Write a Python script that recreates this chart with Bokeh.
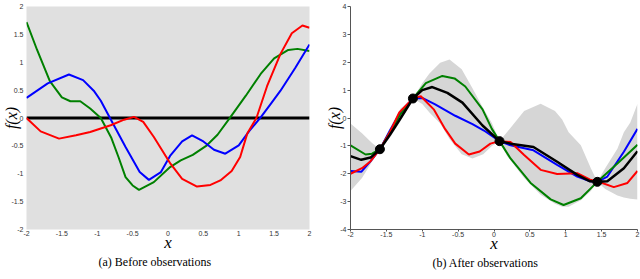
from bokeh.plotting import figure
from bokeh.layouts import row
from bokeh.models import FixedTicker, CustomJSTickFormatter, Range1d, Title
from bokeh.embed import file_html
from bokeh.resources import INLINE

# ---------------- data: (a) before observations ----------------
a_zero_x = [-2.0, 2.0]
a_zero_y = [0.0, 0.0]

a_green_x = [-2.0, -1.85, -1.67, -1.5, -1.38, -1.24, -1.1, -0.95, -0.8, -0.7, -0.6, -0.5, -0.41, -0.2,
             0.03, 0.18, 0.35, 0.55, 0.7, 0.88, 1.1, 1.31, 1.5, 1.7, 1.83, 2.0]
a_green_y = [1.72, 1.22, 0.66, 0.37, 0.30, 0.30, 0.17, 0.0, -0.36, -0.70, -1.06, -1.21, -1.29, -1.15,
             -0.88, -0.76, -0.66, -0.49, -0.3, 0.01, 0.4, 0.79, 1.07, 1.22, 1.24, 1.20]

a_blue_x = [-2.0, -1.7, -1.4, -1.2, -1.05, -0.95, -0.82, -0.6, -0.4, -0.27, -0.1, 0.035, 0.2, 0.34,
            0.5, 0.65, 0.81, 1.0, 1.15, 1.31, 1.45, 1.59, 1.8, 2.0]
a_blue_y = [0.36, 0.62, 0.78, 0.68, 0.49, 0.31, 0.0, -0.52, -0.97, -1.11, -0.97, -0.67, -0.42, -0.31,
            -0.42, -0.57, -0.64, -0.49, -0.23, 0.01, 0.25, 0.49, 0.9, 1.32]

a_red_x = [-2.0, -1.8, -1.54, -1.3, -1.1, -0.81, -0.62, -0.48, -0.35, -0.2, 0.035, 0.2, 0.41, 0.6,
           0.74, 0.9, 1.02, 1.12, 1.25, 1.4, 1.59, 1.75, 1.9, 2.0]
a_red_y = [0.0, -0.24, -0.37, -0.31, -0.25, -0.13, -0.03, 0.02, -0.07, -0.34, -0.82, -1.09, -1.23, -1.20,
           -1.12, -0.95, -0.70, -0.28, 0.0, 0.57, 1.15, 1.52, 1.66, 1.62]

a_x_ticks = [-2, -1.5, -1, -0.5, 0, 0.5, 1, 1.5, 2]
a_x_labels = ["-2", "-1.5", "-1", "-0.5", "0", "0.5", "1", "1.5", "2"]
a_y_ticks = [-2, -1.5, -1, -0.5, 0, 0.5, 1, 1.5, 2]
a_y_labels = ["-2", "-1.5", "-1", "-0.5", "0", "0.5", "1", "1.5", "2"]

# ---------------- data: (b) after observations ----------------
b_band_x = [-2.0, -1.84, -1.70, -1.59, -1.45, -1.30, -1.13, -1.0, -0.9, -0.75, -0.62, -0.45, -0.3, -0.15,
            -0.03, 0.077, 0.18, 0.42, 0.65, 0.85, 0.95, 1.04, 1.21, 1.35, 1.44, 1.55, 1.72, 1.81, 1.90, 2.0]
b_band_upper = [-0.2, -0.55, -0.9, -1.12, -0.35, 0.35, 0.70, 1.25, 1.6, 1.98, 2.1, 1.75, 1.07, 0.35,
                -0.18, -0.83, -0.51, 0.25, 0.51, 0.25, -0.05, -0.51, -0.98, -1.8, -2.29, -1.8, -1.10, -0.51, -0.16, 0.51]
b_band_lower = [-2.62, -2.15, -1.57, -1.12, -0.7, -0.1, 0.70, 0.5, 0.2, -0.2, -0.75, -1.3, -1.45, -1.3,
                -1.0, -0.83, -1.35, -2.15, -2.75, -3.08, -3.18, -3.18, -2.95, -2.62, -2.29, -2.55, -2.78, -2.85, -2.9, -2.92]

b_mean_x = [-2.0, -1.85, -1.72, -1.59, -1.45, -1.3, -1.13, -1.0, -0.86, -0.65, -0.44, -0.16, 0.077, 0.23,
            0.55, 0.88, 1.16, 1.34, 1.44, 1.58, 1.81, 2.0]
b_mean_y = [-1.37, -1.5, -1.42, -1.12, -0.6, 0.0, 0.70, 1.0, 1.11, 0.90, 0.55, -0.27, -0.83, -0.92,
            -1.04, -1.57, -2.04, -2.27, -2.29, -2.27, -1.80, -1.19]

b_red_x = [-2.0, -1.84, -1.72, -1.59, -1.45, -1.32, -1.13, -1.02, -0.84, -0.68, -0.54, -0.35, -0.2, -0.05,
           0.077, 0.23, 0.42, 0.65, 0.88, 1.16, 1.34, 1.44, 1.67, 1.86, 2.0]
b_red_y = [-2.0, -1.80, -1.55, -1.12, -0.5, 0.2, 0.70, 0.78, 0.31, -0.4, -0.92, -1.31, -1.2, -0.92,
           -0.83, -0.86, -1.33, -1.86, -2.01, -1.98, -2.21, -2.27, -2.48, -2.33, -1.9]

b_blue_x = [-2.0, -1.85, -1.72, -1.59, -1.45, -1.3, -1.13, -1.0, -0.82, -0.54, -0.30, -0.14, 0.077, 0.23,
            0.55, 0.88, 1.16, 1.34, 1.44, 1.58, 1.81, 2.0]
b_blue_y = [-1.90, -1.93, -1.55, -1.12, -0.45, 0.22, 0.70, 0.72, 0.49, 0.08, -0.22, -0.45, -0.83, -0.98,
            -1.16, -1.68, -2.10, -2.27, -2.29, -2.10, -1.21, -0.39]

b_green_x = [-2.0, -1.79, -1.70, -1.59, -1.45, -1.3, -1.13, -0.95, -0.72, -0.55, -0.40, -0.16, -0.03, 0.077,
             0.23, 0.51, 0.79, 0.97, 1.21, 1.44, 1.72, 2.0]
b_green_y = [-0.98, -1.31, -1.28, -1.12, -0.5, 0.15, 0.70, 1.25, 1.51, 1.42, 1.13, 0.31, -0.39, -0.83,
             -1.45, -2.33, -2.92, -3.12, -2.88, -2.29, -1.63, -0.96]

b_obs_x = [-1.59, -1.13, 0.077, 1.44]
b_obs_y = [-1.12, 0.70, -0.83, -2.29]

b_x_ticks = [-2, -1.5, -1, -0.5, 0, 0.5, 1, 1.5, 2]
b_x_labels = ["-2", "-1.5", "-1", "-0.5", "0", "0.5", "1", "1.5", "2"]
b_y_ticks = [-4, -3, -2, -1, 0, 1, 2, 3, 4]
b_y_labels = ["-4", "-3", "-2", "-1", "0", "1", "2", "3", "4"]

captions = ["(a) Before observations", "(b) After observations"]
x_label = "x"
y_label = "f(x)"

# ---------------- layout ----------------
FIG_H = 279
SERIF = "Liberation Serif"
TICK_FONT = "Liberation Sans"


def fmt(ticks, labels):
    return CustomJSTickFormatter(args=dict(tv=ticks, lab=labels), code="""
        for (let i = 0; i < tv.length; i++) { if (Math.abs(tv[i] - tick) < 1e-9) return lab[i]; }
        return '';
    """)


def make_fig(width, bl, br, bt, xr, yr, xt, xl, yt, yl, caption, cap_offset):
    p = figure(width=width, height=FIG_H, output_backend="svg", toolbar_location=None,
               x_range=Range1d(*xr), y_range=Range1d(*yr),
               min_border_left=bl, min_border_right=br,
               min_border_top=bt, min_border_bottom=FIG_H - 229)
    p.title.visible = False
    p.grid.visible = False
    p.outline_line_color = None
    p.background_fill_color = "white"
    p.border_fill_color = "white"
    p.xaxis.ticker = FixedTicker(ticks=xt)
    p.yaxis.ticker = FixedTicker(ticks=yt)
    p.xaxis.formatter = fmt(xt, xl)
    p.yaxis.formatter = fmt(yt, yl)
    p.xaxis.minor_tick_line_color = None
    p.yaxis.minor_tick_line_color = None
    for ax in (p.xaxis, p.yaxis):
        ax.major_label_text_font = TICK_FONT
        ax.major_label_text_font_size = "7px"
        ax.major_label_text_color = "#333333"
        ax.axis_label_text_font = SERIF
        ax.axis_label_text_font_style = "italic"
        ax.axis_label_text_color = "black"
    p.xaxis.axis_label = x_label
    p.xaxis.axis_label_text_font_size = "17px"
    p.yaxis.axis_label = y_label
    p.yaxis.axis_label_text_font_size = "16px"
    p.add_layout(Title(text=caption, align="left", offset=cap_offset, standoff=-4,
                       text_font=SERIF, text_font_size="12px", text_font_style="normal",
                       text_color="black"), "below")
    return p


# ---------------- panel (a) ----------------
p1 = make_fig(320, 26, 11, 6, (-2, 2), (-2, 2), a_x_ticks, a_x_labels, a_y_ticks, a_y_labels,
              captions[0], 72)
p1.background_fill_color = "#e0e0e0"
for ax in (p1.xaxis, p1.yaxis):
    ax.axis_line_color = None
    ax.major_tick_line_color = None
    ax.major_tick_out = 0
    ax.major_tick_in = 0
p1.yaxis.major_label_standoff = 3
p1.xaxis.major_label_standoff = 1
p1.yaxis.axis_label_standoff = -12
p1.xaxis.axis_label_standoff = -6

p1.line(a_zero_x, a_zero_y, color="black", line_width=3)
p1.line(a_green_x, a_green_y, color="#008000", line_width=2)
p1.line(a_blue_x, a_blue_y, color="#0000ff", line_width=2)
p1.line(a_red_x, a_red_y, color="#ff0000", line_width=2)

# ---------------- panel (b) ----------------
p2 = make_fig(320, 30, 3, 2, (-2, 2), (-4, 4), b_x_ticks, b_x_labels, b_y_ticks, b_y_labels,
              captions[1], 82)
for ax in (p2.xaxis, p2.yaxis):
    ax.axis_line_color = "#555555"
    ax.axis_line_width = 1
    ax.major_tick_line_color = "#555555"
    ax.major_tick_in = 0
p2.yaxis.major_tick_out = 3
p2.yaxis.major_label_standoff = 1
p2.xaxis.major_tick_out = 2
p2.xaxis.major_label_standoff = 0
p2.yaxis.axis_label_standoff = -6
p2.xaxis.axis_label_standoff = -6

p2.varea(x=b_band_x, y1=b_band_lower, y2=b_band_upper, fill_color="#d6d6d6")
p2.line(b_blue_x, b_blue_y, color="#0000ff", line_width=2)
p2.line(b_green_x, b_green_y, color="#008000", line_width=2)
p2.line(b_red_x, b_red_y, color="#ff0000", line_width=2)
p2.line(b_mean_x, b_mean_y, color="black", line_width=2.5)
p2.scatter(b_obs_x, b_obs_y, size=9, color="black")

layout = row(p1, p2)
open("out.html", "w").write(file_html(layout, INLINE))
